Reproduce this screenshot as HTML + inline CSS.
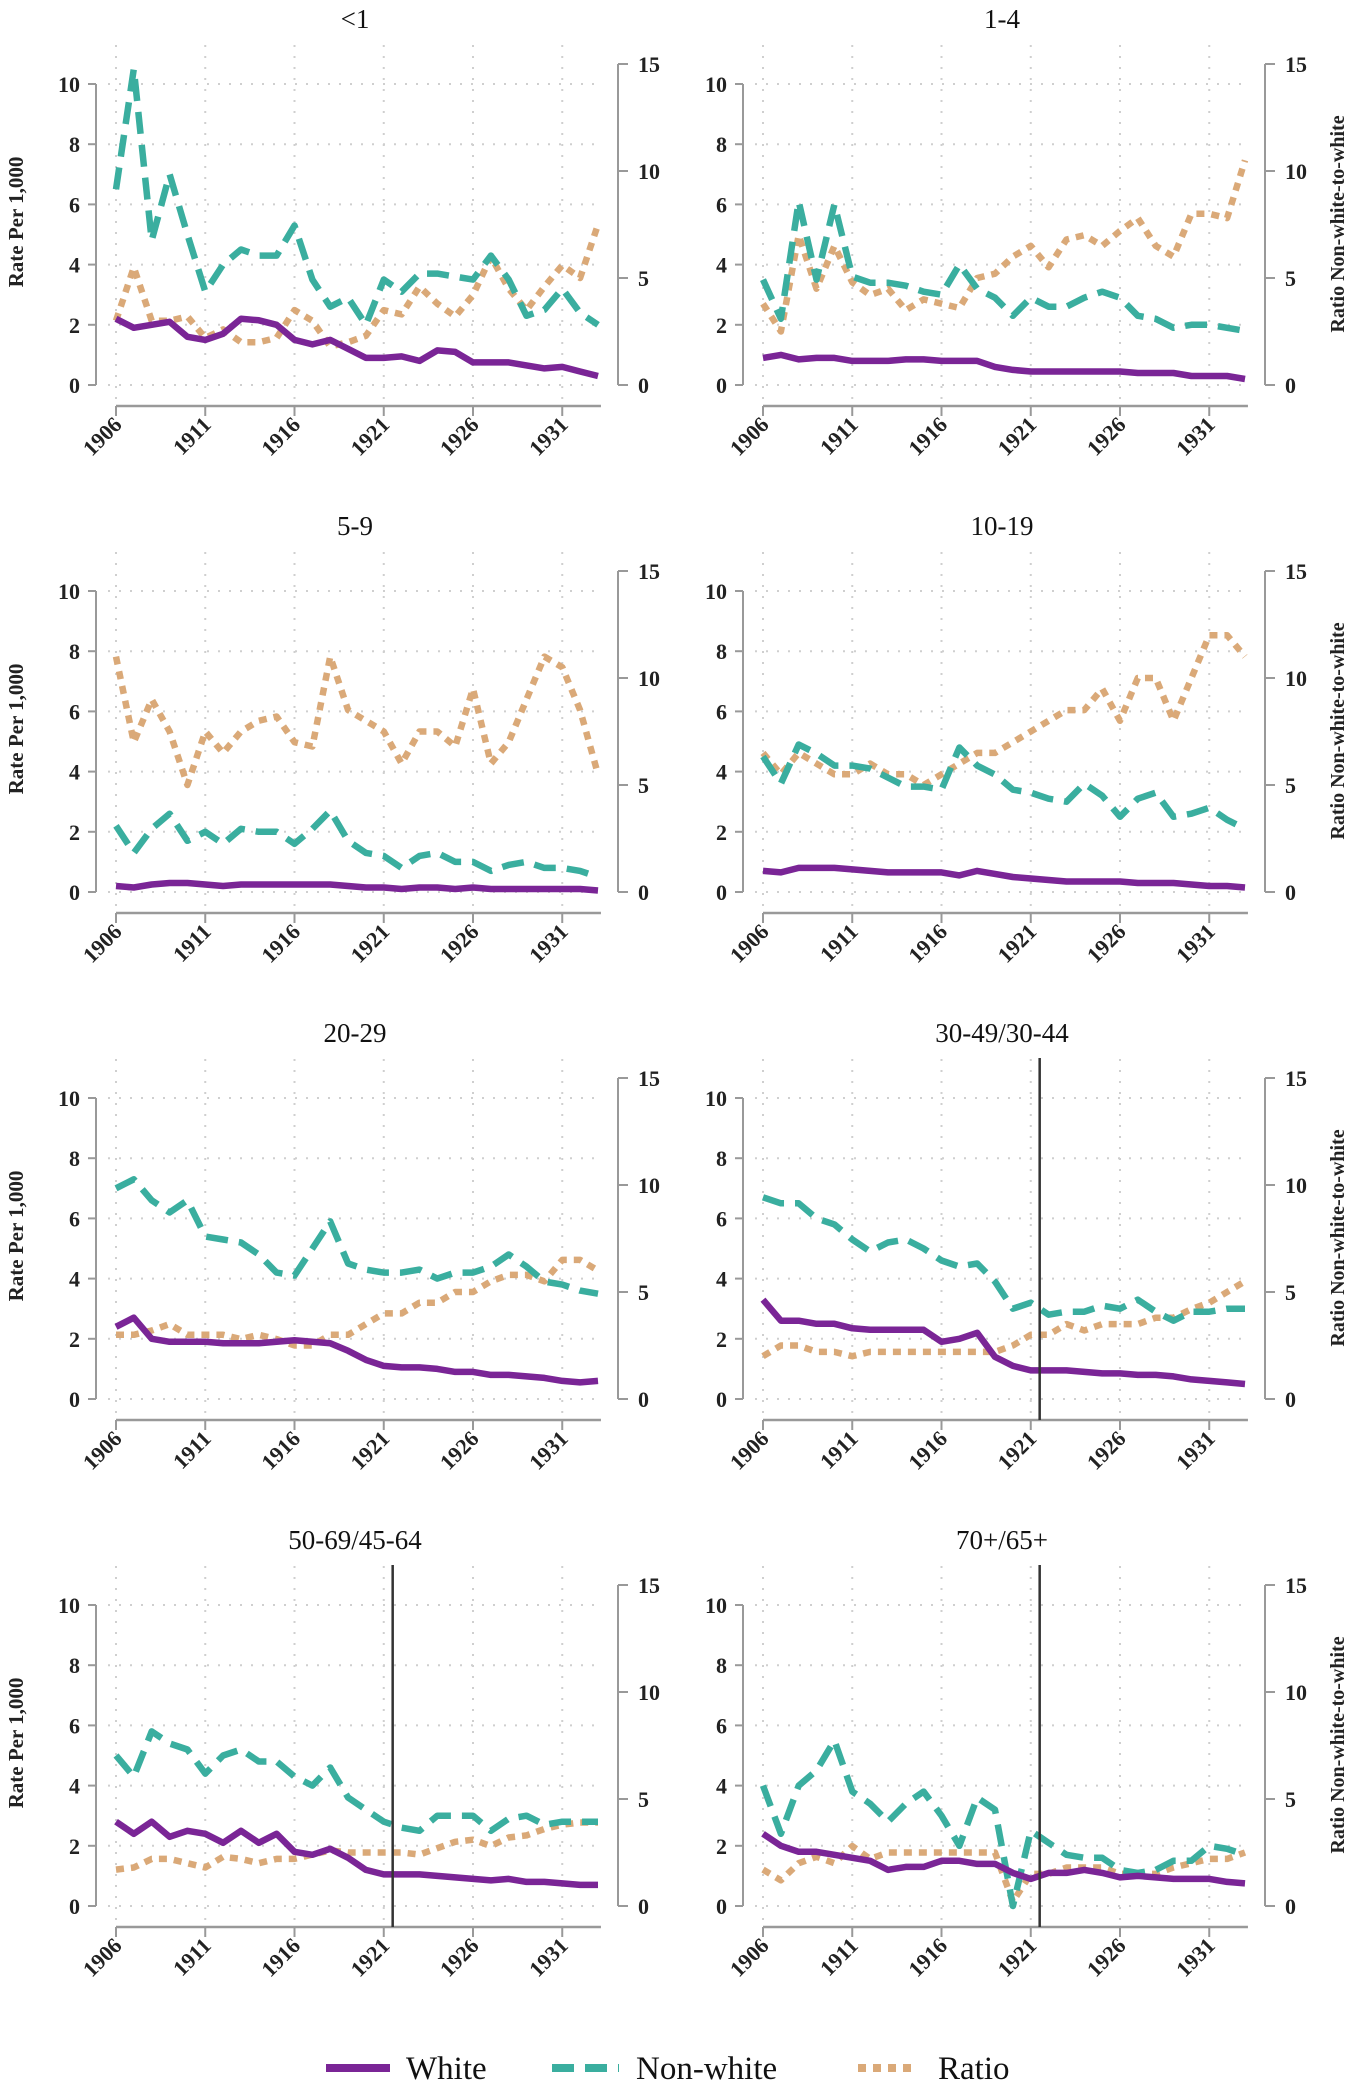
<!DOCTYPE html>
<html><head><meta charset="utf-8">
<style>
html,body{margin:0;padding:0;background:#fff;}
svg{display:block;font-family:"Liberation Serif",serif;}
</style></head>
<body>
<svg id="chart" width="1357" height="2090" viewBox="0 0 1357 2090" xmlns="http://www.w3.org/2000/svg"></svg>
<script>
const years = [1906,1907,1908,1909,1910,1911,1912,1913,1914,1915,1916,1917,1918,1919,1920,1921,1922,1923,1924,1925,1926,1927,1928,1929,1930,1931,1932,1933];
const xTicks = [1906,1911,1916,1921,1926,1931];
const leftTicks = [0,2,4,6,8,10];
const rightTicks = [0,5,10,15];
const panelTitles = ["<1","1-4","5-9","10-19","20-29","30-49/30-44","50-69/45-64","70+/65+"];
const breakYear = [null,null,null,null,null,1921.5,1921.5,1921.5];

const white0 = [2.2,1.9,2.0,2.1,1.6,1.5,1.7,2.2,2.15,2.0,1.5,1.35,1.5,1.2,0.9,0.9,0.95,0.8,1.15,1.1,0.75,0.75,0.75,0.65,0.55,0.6,0.45,0.3];
const nonwhite0 = [6.5,10.5,4.8,7.0,5.0,3.1,4.0,4.5,4.3,4.3,5.3,3.5,2.6,2.9,2.0,3.5,3.1,3.7,3.7,3.6,3.5,4.3,3.5,2.3,2.5,3.2,2.4,2.0];
const ratio0 = [3.0,5.5,3.0,3.0,3.2,2.2,2.6,2.0,2.0,2.2,3.5,3.0,1.8,2.0,2.3,3.5,3.3,4.6,3.8,3.2,4.2,6.0,4.5,3.5,4.6,5.6,5.0,7.5];

const white1 = [0.9,1.0,0.85,0.9,0.9,0.8,0.8,0.8,0.85,0.85,0.8,0.8,0.8,0.6,0.5,0.45,0.45,0.45,0.45,0.45,0.45,0.4,0.4,0.4,0.3,0.3,0.3,0.2];
const nonwhite1 = [3.5,2.2,6.1,3.5,6.0,3.6,3.4,3.4,3.3,3.1,3.0,4.0,3.2,2.9,2.3,2.9,2.6,2.6,2.9,3.1,2.9,2.3,2.2,1.9,2.0,2.0,1.9,1.8];
const ratio1 = [3.8,2.5,7.0,4.5,6.5,4.8,4.2,4.5,3.5,4.0,3.8,3.6,5.0,5.2,6.0,6.5,5.5,6.8,7.0,6.5,7.2,7.8,6.5,6.0,8.0,8.0,7.8,10.5];

const white2 = [0.2,0.15,0.25,0.3,0.3,0.25,0.2,0.25,0.25,0.25,0.25,0.25,0.25,0.2,0.15,0.15,0.1,0.15,0.15,0.1,0.15,0.1,0.1,0.1,0.1,0.1,0.1,0.05];
const nonwhite2 = [2.2,1.3,2.1,2.6,1.7,2.0,1.6,2.1,2.0,2.0,1.6,2.1,2.7,1.7,1.3,1.2,0.8,1.2,1.3,1.0,1.0,0.7,0.9,1.0,0.8,0.8,0.7,0.5];
const ratio2 = [11.0,7.0,9.0,7.5,5.0,7.5,6.5,7.5,8.0,8.2,7.0,6.8,11.0,8.5,8.0,7.5,6.0,7.5,7.5,6.8,9.5,6.0,7.0,9.0,11.0,10.5,8.5,5.5];

const white3 = [0.7,0.65,0.8,0.8,0.8,0.75,0.7,0.65,0.65,0.65,0.65,0.55,0.7,0.6,0.5,0.45,0.4,0.35,0.35,0.35,0.35,0.3,0.3,0.3,0.25,0.2,0.2,0.15];
const nonwhite3 = [4.5,3.6,4.9,4.6,4.2,4.2,4.1,3.8,3.5,3.5,3.4,4.8,4.2,3.9,3.4,3.3,3.1,3.0,3.6,3.2,2.5,3.1,3.3,2.5,2.6,2.8,2.4,2.1];
const ratio3 = [6.5,5.5,6.5,6.0,5.5,5.5,6.0,5.5,5.5,5.0,5.5,6.0,6.5,6.5,7.0,7.5,8.0,8.5,8.5,9.5,8.0,10.0,10.0,8.0,10.0,12.0,12.0,11.0];

const white4 = [2.4,2.7,2.0,1.9,1.9,1.9,1.85,1.85,1.85,1.9,1.95,1.9,1.85,1.6,1.3,1.1,1.05,1.05,1.0,0.9,0.9,0.8,0.8,0.75,0.7,0.6,0.55,0.6];
const nonwhite4 = [7.0,7.3,6.6,6.2,6.6,5.4,5.3,5.2,4.8,4.2,4.1,5.0,5.9,4.5,4.3,4.2,4.2,4.3,4.0,4.2,4.2,4.4,4.8,4.4,3.9,3.8,3.6,3.5];
const ratio4 = [3.0,3.0,3.2,3.5,3.0,3.0,3.0,2.8,3.0,2.8,2.5,2.5,3.0,3.0,3.5,4.0,4.0,4.5,4.5,5.0,5.0,5.5,5.8,5.8,5.5,6.5,6.5,6.0];

const white5 = [3.3,2.6,2.6,2.5,2.5,2.35,2.3,2.3,2.3,2.3,1.9,2.0,2.2,1.4,1.1,0.95,0.95,0.95,0.9,0.85,0.85,0.8,0.8,0.75,0.65,0.6,0.55,0.5];
const nonwhite5 = [6.7,6.5,6.5,6.0,5.8,5.3,4.9,5.2,5.3,5.0,4.6,4.4,4.5,3.9,3.0,3.2,2.8,2.9,2.9,3.1,3.0,3.3,2.9,2.6,2.9,2.9,3.0,3.0];
const ratio5 = [2.0,2.5,2.5,2.2,2.2,2.0,2.2,2.2,2.2,2.2,2.2,2.2,2.2,2.2,2.5,3.0,3.0,3.5,3.2,3.5,3.5,3.5,3.8,3.8,4.2,4.5,5.0,5.5];

const white6 = [2.8,2.4,2.8,2.3,2.5,2.4,2.1,2.5,2.1,2.4,1.8,1.7,1.9,1.6,1.2,1.05,1.05,1.05,1.0,0.95,0.9,0.85,0.9,0.8,0.8,0.75,0.7,0.7];
const nonwhite6 = [5.0,4.3,5.8,5.4,5.2,4.4,5.0,5.2,4.8,4.8,4.3,4.0,4.6,3.6,3.2,2.8,2.6,2.5,3.0,3.0,3.0,2.5,2.9,3.0,2.7,2.8,2.8,2.8];
const ratio6 = [1.7,1.8,2.2,2.2,2.0,1.8,2.3,2.2,2.0,2.2,2.2,2.4,2.6,2.5,2.5,2.5,2.5,2.4,2.7,3.0,3.1,2.8,3.2,3.3,3.6,3.8,3.9,3.9];

const white7 = [2.4,2.0,1.8,1.8,1.7,1.6,1.5,1.2,1.3,1.3,1.5,1.5,1.4,1.4,1.1,0.9,1.1,1.1,1.2,1.1,0.95,1.0,0.95,0.9,0.9,0.9,0.8,0.75];
const nonwhite7 = [4.0,2.4,4.0,4.5,5.5,3.8,3.4,2.8,3.4,3.8,3.0,2.0,3.6,3.2,0.0,2.5,2.1,1.7,1.6,1.6,1.2,1.1,1.2,1.5,1.5,2.0,1.9,1.7];
const ratio7 = [1.7,1.2,2.0,2.3,2.0,2.8,2.2,2.5,2.5,2.5,2.5,2.5,2.5,2.5,0.2,1.5,1.5,1.8,1.8,1.8,1.5,1.5,1.5,1.8,2.0,2.2,2.2,2.5];

const whites = [white0,white1,white2,white3,white4,white5,white6,white7];
const nonwhites = [nonwhite0,nonwhite1,nonwhite2,nonwhite3,nonwhite4,nonwhite5,nonwhite6,nonwhite7];
const ratios = [ratio0,ratio1,ratio2,ratio3,ratio4,ratio5,ratio6,ratio7];

const NS = "http://www.w3.org/2000/svg";
const svg = document.getElementById("chart");
function mk(tag, attrs, parent){
  const e = document.createElementNS(NS, tag);
  for (const k in attrs) e.setAttribute(k, attrs[k]);
  (parent||svg).appendChild(e);
  return e;
}
const COLW = "#7a2596", COLN = "#3aae9f", COLR = "#daa978", AX = "#999";

for (let p = 0; p < 8; p++) {
  const ox = (p % 2) * 647, oy = Math.floor(p / 2) * 507;
  const g = mk("g", {});
  
  
  const x = yr => ox + 116 + (yr - 1906) * 17.85;
  const yL = v => oy + 385 - v * 30.1;
  const yR = v => oy + 385 - v * 21.4;

  leftTicks.forEach(v => {
    const l = mk("line", {x1: ox+108, x2: ox+600, y1: yL(v), y2: yL(v), stroke: "#cfcfcf", "stroke-width": 2, "stroke-dasharray": "2 9"}, g);
    
    
  });
  xTicks.forEach(t => {
    const l = mk("line", {x1: x(t), x2: x(t), y1: oy+45, y2: oy+400, stroke: "#cfcfcf", "stroke-width": 2, "stroke-dasharray": "2 9"}, g);
    
    
  });

  const la = mk("line", {x1: ox+96, x2: ox+96, y1: yL(10), y2: yL(0), stroke: AX, "stroke-width": 2}, g);
  
  
  leftTicks.forEach(v => {
    mk("line", {x1: ox+88, x2: ox+96, y1: yL(v), y2: yL(v), stroke: AX, "stroke-width": 2}, g);
    const t = mk("text", {x: ox+80, y: yL(v)+8, "text-anchor": "end", "font-size": 22, "font-weight": "bold", fill: "#222"}, g);
    t.textContent = v;
    
    
  });
  const ra = mk("line", {x1: ox+618, x2: ox+618, y1: yR(15), y2: yR(0), stroke: AX, "stroke-width": 2}, g);
  
  
  rightTicks.forEach(v => {
    mk("line", {x1: ox+618, x2: ox+628, y1: yR(v), y2: yR(v), stroke: AX, "stroke-width": 2}, g);
    const t = mk("text", {x: ox+638, y: yR(v)+8, "text-anchor": "start", "font-size": 22, "font-weight": "bold", fill: "#222"}, g);
    t.textContent = v;
    
    
  });
  const xa = mk("line", {x1: x(1906), x2: x(1933)+3, y1: oy+406, y2: oy+406, stroke: AX, "stroke-width": 2.5}, g);
  
  
  xTicks.forEach(t => {
    mk("line", {x1: x(t), x2: x(t), y1: oy+406, y2: oy+416, stroke: AX, "stroke-width": 2}, g);
    const tx = mk("text", {x: x(t)+7, y: oy+426, "text-anchor": "end", "font-size": 22, "font-weight": "bold", fill: "#222", transform: `rotate(-45 ${x(t)+7} ${oy+426})`}, g);
    tx.textContent = t;
    
    
  });

  const ti = mk("text", {x: ox+355, y: oy+28, "text-anchor": "middle", "font-size": 27, fill: "#111"}, g);
  ti.textContent = panelTitles[p];
  
  

  if (p % 2 === 0) {
    const yl = mk("text", {x: 23, y: oy+222, "text-anchor": "middle", "font-size": 21, "font-weight": "bold", fill: "#222", transform: `rotate(-90 23 ${oy+222})`}, g);
    yl.textContent = "Rate Per 1,000";
    
    
  } else {
    const yr2 = mk("text", {x: 1344, y: oy+224, "text-anchor": "middle", "font-size": 20, "font-weight": "bold", fill: "#222", transform: `rotate(-90 1344 ${oy+224})`}, g);
    yr2.textContent = "Ratio Non-white-to-white";
    
    
  }

  const pts = (arr, fy) => arr.map((v, i) => x(years[i]).toFixed(1) + "," + fy(v).toFixed(1)).join(" ");
  const rl = mk("polyline", {points: pts(ratios[p], yR), fill: "none", stroke: COLR, "stroke-width": 6.5, "stroke-dasharray": "8 7", "stroke-linejoin": "round"}, g);
  
  
  const nl = mk("polyline", {points: pts(nonwhites[p], yL), fill: "none", stroke: COLN, "stroke-width": 6.5, "stroke-dasharray": "22 11", "stroke-linejoin": "round"}, g);
  
  
  const wl = mk("polyline", {points: pts(whites[p], yL), fill: "none", stroke: COLW, "stroke-width": 6.5, "stroke-linejoin": "round"}, g);
  
  

  if (breakYear[p] !== null) {
    const bl = mk("line", {x1: x(breakYear[p]), x2: x(breakYear[p]), y1: oy+44, y2: oy+406, stroke: "#333", "stroke-width": 2.5}, g);
    
    
  }
}

const lg = mk("g", {});


const legendItems = [
  {label: "White", x1: 326, x2: 390, tx: 406, color: COLW, dash: "none"},
  {label: "Non-white", x1: 552, x2: 619, tx: 636, color: COLN, dash: "22 11"},
  {label: "Ratio", x1: 858, x2: 918, tx: 938, color: COLR, dash: "8 7"}
];
legendItems.forEach(it => {
  const e = mk("g", {}, lg);
  
  
  mk("line", {x1: it.x1, x2: it.x2, y1: 2068, y2: 2068, stroke: it.color, "stroke-width": 8, "stroke-dasharray": it.dash}, e);
  const t = mk("text", {x: it.tx, y: 2079, "font-size": 33, fill: "#111"}, e);
  t.textContent = it.label;
});
</script>
</body></html>
